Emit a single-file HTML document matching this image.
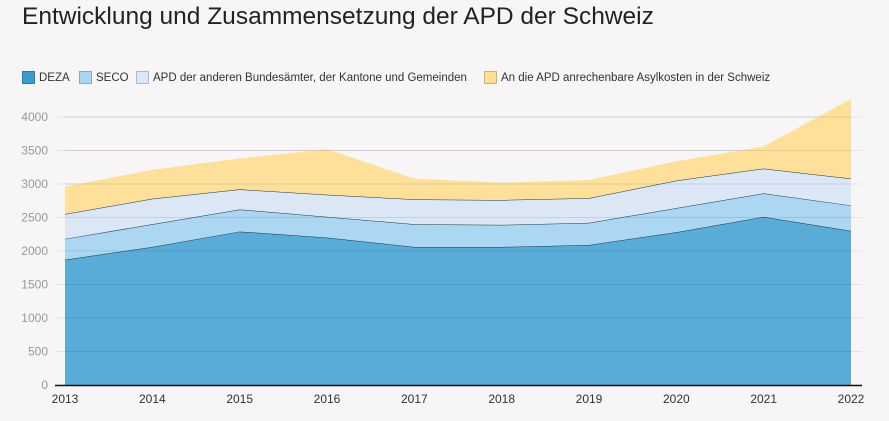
<!DOCTYPE html>
<html><head><meta charset="utf-8"><style>
body{margin:0;background:#f7f5f5;font-family:"Liberation Sans",sans-serif;}
#wrap{position:relative;width:889px;height:421px;overflow:hidden;}
h1{position:absolute;left:22px;top:3px;margin:0;font-weight:normal;font-size:24.5px;color:#222;}
.leg{position:absolute;top:71px;font-size:11.5px;color:#333;display:flex;align-items:center;white-space:nowrap;}
.leg span.sw{display:inline-block;width:13px;height:13px;margin-right:4px;border:1px solid rgba(0,0,0,0.2);box-sizing:border-box;}
</style></head><body>
<div id="wrap">
<h1>Entwicklung und Zusammensetzung der APD der Schweiz</h1>
<div class="leg" style="left:22px"><span class="sw" style="background:#3a9ccd"></span>DEZA</div>
<div class="leg" style="left:79px"><span class="sw" style="background:#a9d6f1"></span>SECO</div>
<div class="leg" style="left:136px"><span class="sw" style="background:#dbe7f6"></span>APD der anderen Bundesämter, der Kantone und Gemeinden</div>
<div class="leg" style="left:484px"><span class="sw" style="background:#fedf96"></span>An die APD anrechenbare Asylkosten in der Schweiz</div>
<svg id="svg" width="889" height="421" style="position:absolute;left:0;top:0"></svg>
</div>
<script>
const years=[2013,2014,2015,2016,2017,2018,2019,2020,2021,2022];
const deza=[1870,2060,2290,2200,2060,2060,2090,2280,2510,2300];
const seco=[310,340,330,310,340,330,330,360,350,380];
const other=[370,380,300,330,370,370,370,410,370,400];
const asyl=[410,430,460,680,310,260,270,290,330,1190];
const yTicks=[0,500,1000,1500,2000,2500,3000,3500,4000];
const NS="http://www.w3.org/2000/svg";
const svg=document.getElementById('svg');
const x=i=>65+i*(851-65)/(years.length-1);
const y=v=>385-v*(268/4000);
function mk(t,a){const e=document.createElementNS(NS,t);for(const k in a)e.setAttribute(k,a[k]);svg.appendChild(e);return e;}
yTicks.forEach(t=>{
  const g=mk('line',{x1:55,x2:862,y1:y(t),y2:y(t),stroke:'#e6e3e3','stroke-width':1});
  
  
  const l=mk('text',{x:48,y:y(t)+4,'text-anchor':'end','font-size':12,fill:'#999','font-family':'Liberation Sans'});
  l.textContent=t;
  
  
});
const series=[deza,seco,other,asyl];
const cols=['#59acd8','#acd7f2','#dce7f6','#fee09a'];
const names=['area-deza','area-seco','area-other','area-asyl'];
let base=years.map(()=>0);
series.forEach((s,si)=>{
  const top=base.map((b,i)=>b+s[i]);
  let d='M'+top.map((v,i)=>x(i)+','+y(v)).join('L');
  for(let i=years.length-1;i>=0;i--)d+='L'+x(i)+','+y(base[i]);
  const p=mk('path',{d:d+'Z',fill:cols[si]});
  
  
  if(si<3){
    const ln=mk('polyline',{points:top.map((v,i)=>x(i)+','+y(v)).join(' '),fill:'none',stroke:'#1a3340','stroke-width':1});
    
    
  }
  base=top;
});
yTicks.slice(1).forEach(t=>{
  const g=mk('line',{x1:65,x2:851,y1:y(t),y2:y(t),stroke:'rgba(0,60,100,0.12)','stroke-width':1});
  
  
});
const ax=mk('line',{x1:55,x2:862,y1:385.5,y2:385.5,stroke:'#111','stroke-width':1.5});


years.forEach((yr,i)=>{
  const l=mk('text',{x:x(i),y:403,'text-anchor':'middle','font-size':12,fill:'#333','font-family':'Liberation Sans'});
  l.textContent=yr;
  
  
});
</script>
</body></html>
